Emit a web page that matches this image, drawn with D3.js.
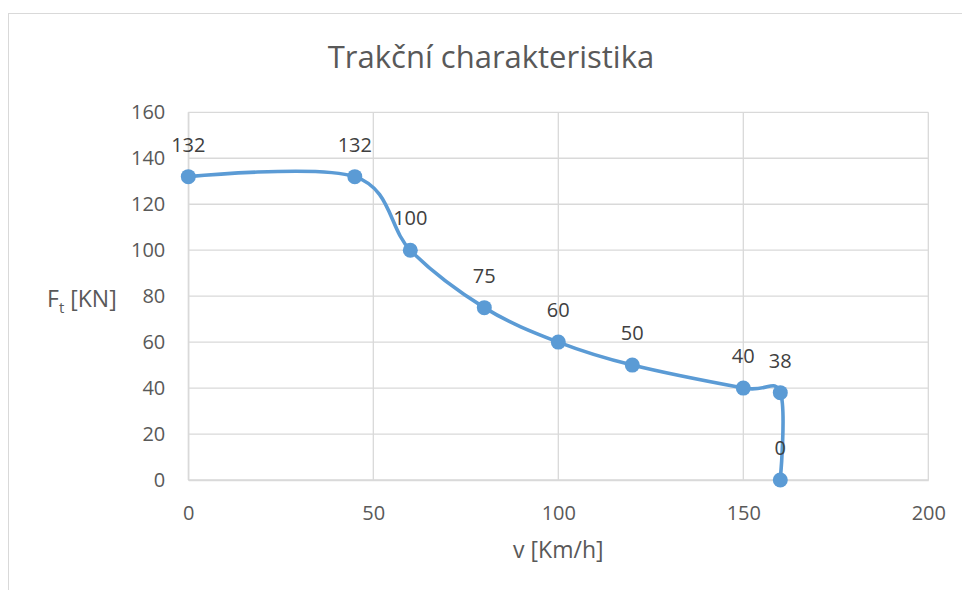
<!DOCTYPE html>
<html>
<head>
<meta charset="utf-8">
<script src="https://cdn.jsdelivr.net/npm/d3@7"></script>
<style>
  html, body { margin: 0; padding: 0; background: #fff; }
  svg { display: block; }
  text { font-family: "Open Sans", "Noto Sans", sans-serif; }
</style>
</head>
<body>
<script>
// ---- data ----
const chartTitle = "Trakční charakteristika";
const speedKmh = [0, 45, 60, 80, 100, 120, 150, 160, 160];
const forceKN  = [132, 132, 100, 75, 60, 50, 40, 38, 0];
const xTicks = [0, 50, 100, 150, 200];
const yTicks = [0, 20, 40, 60, 80, 100, 120, 140, 160];
const xTitle = "v [Km/h]";
const yTitleMain = "F";
const yTitleSub = "t";
const yTitleRest = " [KN]";

const W = 962, H = 590;
const svg = d3.select("body").append("svg").attr("width", W).attr("height", H);
svg.append("rect").attr("width", W).attr("height", H).attr("fill", "#fff");
// chart border
svg.append("rect").attr("x", 8.5).attr("y", 13.5).attr("width", 1000).attr("height", 1000)
  .attr("fill", "none").attr("stroke", "#d9d9d9").attr("stroke-width", 1);

const plot = { left: 188.3, right: 928.3, top: 112.3, bottom: 480 };
const x = d3.scaleLinear().domain([0, 200]).range([plot.left, plot.right]);
const y = d3.scaleLinear().domain([0, 160]).range([plot.bottom, plot.top]);

const grid = svg.append("g");
grid.selectAll("line.h").data(yTicks).join("line")
  .attr("x1", plot.left).attr("x2", plot.right)
  .attr("y1", d => y(d)).attr("y2", d => y(d))
  .attr("stroke", "#d9d9d9").attr("stroke-width", 1.3);
grid.selectAll("line.v").data(xTicks).join("line")
  .attr("y1", plot.top).attr("y2", plot.bottom)
  .attr("x1", d => x(d)).attr("x2", d => x(d))
  .attr("stroke", "#d9d9d9").attr("stroke-width", 1.3);

// axes via d3 axis generators (labels only, lines drawn as grid)
const xAxis = svg.append("g").attr("transform", `translate(0,${plot.bottom})`)
  .call(d3.axisBottom(x).tickValues(xTicks).tickSize(0).tickPadding(26).tickFormat(d3.format("d")));
xAxis.select(".domain").attr("stroke", "#d9d9d9").attr("stroke-width", 1.3);
xAxis.selectAll("text").attr("font-size", 20).attr("fill", "#595959")
  .attr("font-family", '"Open Sans", sans-serif');

const yAxis = svg.append("g").attr("transform", `translate(${plot.left},0)`)
  .call(d3.axisLeft(y).tickValues(yTicks).tickSize(0).tickPadding(23).tickFormat(d3.format("d")));
yAxis.select(".domain").attr("stroke", "#d9d9d9").attr("stroke-width", 1.3);
yAxis.selectAll("text").attr("font-size", 20).attr("fill", "#595959")
  .attr("font-family", '"Open Sans", sans-serif');

// title
svg.append("text").attr("x", 491).attr("y", 68).attr("text-anchor", "middle")
  .attr("font-size", 31).attr("fill", "#595959").text(chartTitle);

// axis titles
svg.append("text").attr("x", x(100)).attr("y", 558).attr("text-anchor", "middle")
  .attr("font-size", 23).attr("fill", "#595959").text(xTitle);
const yt = svg.append("text").attr("x", 47).attr("y", 307)
  .attr("font-size", 23).attr("fill", "#595959");
yt.append("tspan").text(yTitleMain);
yt.append("tspan").attr("font-size", 15).attr("dy", 6).text(yTitleSub);
yt.append("tspan").attr("dy", -6).text(yTitleRest);

// series
const pts = speedKmh.map((v, i) => [v, forceKN[i]]);
const line = d3.line().x(d => x(d[0])).y(d => y(d[1])).curve(d3.curveCardinal.tension(0));
svg.append("path").datum(pts).attr("d", line)
  .attr("fill", "none").attr("stroke", "#5b9bd5").attr("stroke-width", 3.6)
  .attr("stroke-linejoin", "round").attr("stroke-linecap", "round");

svg.selectAll("circle.pt").data(pts).join("circle")
  .attr("cx", d => x(d[0])).attr("cy", d => y(d[1])).attr("r", 7.5)
  .attr("fill", "#5b9bd5");

svg.selectAll("text.lbl").data(pts).join("text")
  .attr("x", d => x(d[0])).attr("y", d => y(d[1]) - 25)
  .attr("text-anchor", "middle").attr("font-size", 20).attr("fill", "#404040")
  .text(d => d[1]);
</script>
</body>
</html>
